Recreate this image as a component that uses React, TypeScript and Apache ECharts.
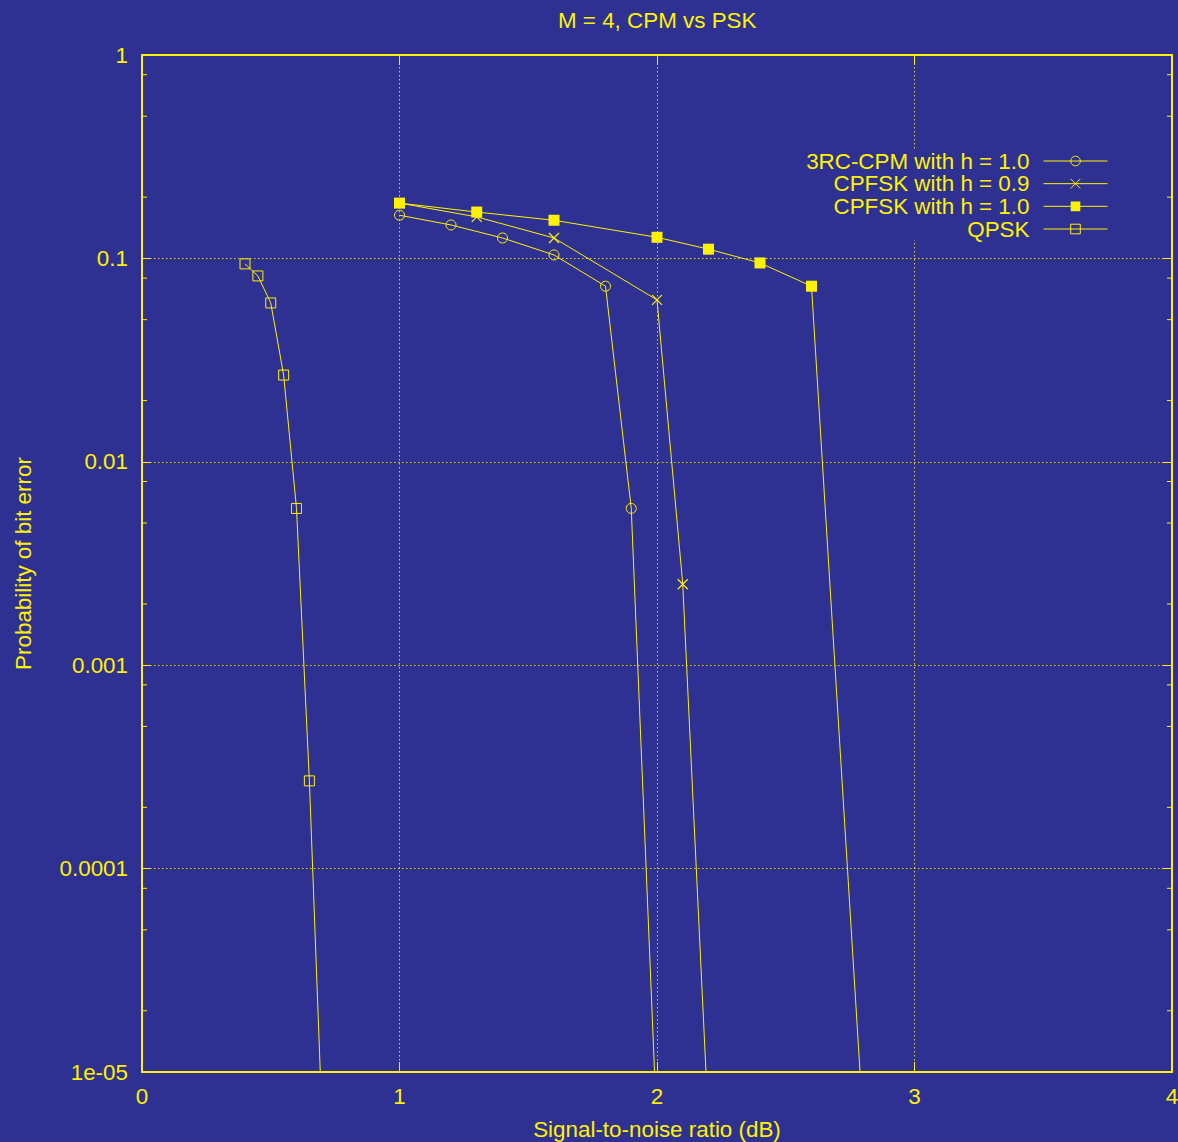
import React, { useEffect, useRef } from 'react';
import * as echarts from 'echarts';

// ---- data ----
const seriesNames = ['3RC-CPM with h = 1.0', 'CPFSK with h = 0.9', 'CPFSK with h = 1.0', 'QPSK'];

const cpmX = [1.0, 1.2, 1.4, 1.6, 1.8, 1.9, 2.0];
const cpmY = [0.163, 0.146, 0.126, 0.104, 0.073, 0.0059, 5.1e-6];

const cpfsk09X = [1.0, 1.3, 1.6, 2.0, 2.1, 2.2];
const cpfsk09Y = [0.187, 0.16, 0.126, 0.0625, 0.0025, 5.5e-6];

const cpfsk10X = [1.0, 1.3, 1.6, 2.0, 2.2, 2.4, 2.6, 2.8];
const cpfsk10Y = [0.187, 0.169, 0.154, 0.127, 0.111, 0.095, 0.073, 5.8e-6];

const qpskX = [0.4, 0.45, 0.5, 0.55, 0.6, 0.65, 0.7];
const qpskY = [0.094, 0.082, 0.0604, 0.0267, 0.0059, 0.00027, 5.5e-6];

const xTickLabels = ['0', '1', '2', '3', '4'];
const yTickLabels = ['1e-05', '0.0001', '0.001', '0.01', '0.1', '1'];
const minorMantissas = [2, 5, 8];

// ---- style ----
const BG = '#2e3192';
const FG = '#fff200';
const FONT = '"Liberation Sans", Arial, Helvetica, sans-serif';
const FS = 22.4;

const zip = (xs: number[], ys: number[]) => xs.map((x, i) => [x, ys[i]]);

export default function App() {
  const ref = useRef<HTMLDivElement>(null);

  useEffect(() => {
    const chart = echarts.init(ref.current!, null, { renderer: 'svg' });

    const baseLine = { color: FG, width: 1 };
    const series: any[] = [
      {
        name: seriesNames[0],
        type: 'line',
        data: zip(cpmX, cpmY),
        symbol: 'circle',
        symbolSize: 10,
        lineStyle: baseLine,
        itemStyle: { color: 'rgba(0,0,0,0)', borderColor: FG, borderWidth: 1 },
        z: 2,
      },
      {
        name: seriesNames[1],
        type: 'line',
        data: zip(cpfsk09X, cpfsk09Y),
        symbol: 'path://M0,0L10,10M0,10L10,0',
        symbolSize: 10,
        lineStyle: baseLine,
        itemStyle: { color: FG, borderColor: FG, borderWidth: 1.2 },
        z: 3,
      },
      {
        name: seriesNames[2],
        type: 'line',
        data: zip(cpfsk10X, cpfsk10Y),
        symbol: 'rect',
        symbolSize: 11,
        lineStyle: baseLine,
        itemStyle: { color: FG, borderWidth: 0 },
        z: 4,
      },
      {
        name: seriesNames[3],
        type: 'line',
        data: zip(qpskX, qpskY),
        symbol: 'rect',
        symbolSize: 10,
        lineStyle: baseLine,
        itemStyle: { color: 'rgba(0,0,0,0)', borderColor: FG, borderWidth: 1 },
        z: 5,
      },
    ];

    const legendTops = [150, 172.67, 195.33, 218];
    const legends = seriesNames.map((n, i) => ({
      data: [n],
      orient: 'vertical',
      align: 'right',
      right: 70,
      top: legendTops[i],
      padding: 0,
      itemWidth: 64,
      itemHeight: 12,
      selectedMode: false,
      itemStyle: { borderWidth: 1 },
      lineStyle: { width: 1 },
      textStyle: { color: FG, fontSize: FS, lineHeight: 20, fontFamily: FONT, padding: [0, 9, 0, 0] },
      z: 6,
    }));

    const axisLine = { show: true, onZero: false, lineStyle: { color: FG, width: 2 } };
    const dotted = { show: true, lineStyle: { color: FG, width: 1, type: [1.5, 2.5], opacity: 0.85 } };

    chart.setOption({
      animation: false,
      backgroundColor: BG,
      textStyle: { fontFamily: FONT },
      title: {
        text: 'M = 4, CPM vs PSK',
        left: 558,
        top: 9,
        padding: 0,
        textStyle: { color: FG, fontSize: FS, fontWeight: 'normal', fontFamily: FONT },
      },
      legend: legends,
      grid: { left: 142, right: 6, top: 55, bottom: 70, containLabel: false, outerBoundsMode: 'none' },
      xAxis: [
        {
          type: 'value',
          min: 0,
          max: 4,
          interval: 1,
          position: 'bottom',
          axisLine,
          axisTick: { show: true, inside: true, length: 10, lineStyle: { color: FG, width: 1 } },
          axisLabel: {
            color: FG,
            fontSize: FS,
            fontFamily: FONT,
            margin: 13,
            formatter: (v: number) => xTickLabels[Math.round(v)],
          },
          splitLine: dotted,
          name: 'Signal-to-noise ratio (dB)',
          nameLocation: 'middle',
          nameGap: 46,
          nameTextStyle: { color: FG, fontSize: FS, fontFamily: FONT },
        },
        {
          type: 'value',
          min: 0,
          max: 4,
          interval: 1,
          position: 'top',
          axisLine,
          axisTick: { show: true, inside: true, length: 10, lineStyle: { color: FG, width: 1 } },
          axisLabel: { show: false },
          splitLine: { show: false },
        },
      ],
      yAxis: [
        {
          type: 'log',
          logBase: 10,
          min: 1e-5,
          max: 1,
          splitNumber: 5,
          position: 'left',
          axisLine,
          axisTick: { show: true, inside: true, length: 9, lineStyle: { color: FG, width: 1 } },
          axisLabel: {
            color: FG,
            fontSize: FS,
            fontFamily: FONT,
            margin: 14,
            formatter: (v: number) => yTickLabels[Math.round(Math.log10(v)) + 5],
          },
          splitLine: dotted,
          name: 'Probability of bit error',
          nameLocation: 'middle',
          nameGap: 108,
          nameTextStyle: { color: FG, fontSize: FS, fontFamily: FONT },
        },
        {
          type: 'log',
          logBase: 10,
          min: 1e-5,
          max: 1,
          splitNumber: 5,
          position: 'right',
          axisLine,
          axisTick: { show: true, inside: true, length: 9, lineStyle: { color: FG, width: 1 } },
          axisLabel: { show: false },
          splitLine: { show: false },
        },
      ],
      series,
    });

    // minor ticks on the log axis (at 2, 5, 8 x 10^k), both sides, plus legend backing box
    const xl = chart.convertToPixel({ xAxisIndex: 0 }, 0) as number;
    const xr = chart.convertToPixel({ xAxisIndex: 0 }, 4) as number;
    const els: any[] = [
      {
        type: 'rect',
        shape: { x: 800, y: 150, width: 315, height: 90 },
        style: { fill: BG },
        z: 3,
      },
    ];
    for (let e = -5; e < 0; e++) {
      for (const m of minorMantissas) {
        const v = m * Math.pow(10, e);
        const y = chart.convertToPixel({ yAxisIndex: 0 }, v) as number;
        els.push({ type: 'line', shape: { x1: xl, y1: y, x2: xl + 5, y2: y }, style: { stroke: FG, lineWidth: 1 }, z: 7 });
        els.push({ type: 'line', shape: { x1: xr - 5, y1: y, x2: xr, y2: y }, style: { stroke: FG, lineWidth: 1 }, z: 7 });
      }
    }
    chart.setOption({ graphic: els });

    return () => chart.dispose();
  }, []);

  return <div ref={ref} style={{ position: 'fixed', left: 0, top: 0, width: 1178, height: 1142 }} />;
}
